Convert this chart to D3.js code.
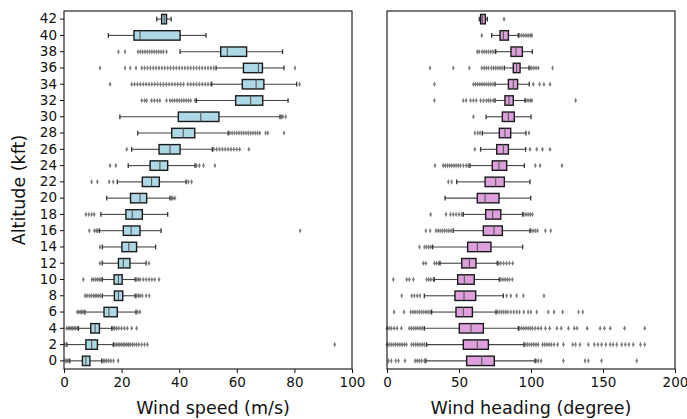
<!DOCTYPE html>
<html><head><meta charset="utf-8">
<script src="https://cdn.jsdelivr.net/npm/d3@7"></script>
<style>body{margin:0;background:#fff}svg{display:block}text{font-family:"DejaVu Sans",sans-serif}</style>
</head><body>
<svg id="c" width="687" height="419"></svg>
<script>
const altitudes = [0,2,4,6,8,10,12,14,16,18,20,22,24,26,28,30,32,34,36,38,40,42];

// Wind speed (m/s) box statistics per altitude
const speedLo  = [2, 1, 5, 7.3, 13.3, 13.3, 13.3, 13.3, 12.3, 12.8, 14.8, 18.5, 22.3, 23.5, 25.6, 19.4, 46, 51.3, 52.8, 40.3, 15.4, 32.2];
const speedQ1  = [6.4, 7.6, 9.3, 13.9, 17.5, 17.4, 18.9, 20.1, 20.6, 21.5, 23.1, 27.2, 29.9, 33, 37.4, 39.7, 59.6, 61.9, 62.3, 54.4, 24.3, 33.9];
const speedMed = [7.6, 9.6, 10.8, 15.6, 18.9, 18.9, 20.6, 22.5, 23.3, 23.7, 26.4, 30.4, 33.3, 36.8, 41.4, 47.5, 64.8, 66.7, 67.5, 56.7, 26.4, 34.8];
const speedQ3  = [9, 11.6, 12.3, 18.5, 20.4, 20.2, 22.9, 25.2, 26.4, 27.2, 28.7, 33.1, 36, 40.3, 45.4, 53.8, 69, 69.4, 68.9, 63.4, 40.3, 35.6];
const speedHi  = [13.1, 17.1, 16.6, 25, 24.7, 24.7, 28.5, 31.8, 33.7, 36, 36.8, 42.4, 45.5, 51.5, 57, 75, 77.8, 80.8, 76.4, 75.9, 49.3, 37.2];
const speedFliers = [
  [0.5, 1, 1.5, 13.6, 14.2, 14.8, 15.5, 16.3, 17.2, 18.8],
  [0.3, 17.6, 18.2, 18.8, 19.4, 20, 20.6, 21.2, 21.8, 22.4, 23, 23.7, 24.4, 25.2, 26, 27, 28, 29, 94],
  [0.9, 1.5, 2, 2.5, 3, 3.5, 4, 4.6, 17, 17.6, 18.2, 19, 20, 21, 22, 23.5, 25.2],
  [4.6, 5.2, 5.8, 6.2, 6.7, 25.6, 26.4],
  [7.3, 8, 8.8, 9.5, 10.2, 10.8, 11.4, 12, 12.6, 25.2, 25.8, 26.4, 27.2, 28.5, 29.6],
  [6.7, 9.7, 10.3, 11, 11.6, 12.2, 12.8, 25.2, 25.8, 26.4, 27.5, 28.5, 29.5, 30.5, 31.5, 33],
  [12.5, 29.5],
  [12.5],
  [8.8, 10.5, 11.2, 11.7, 82],
  [7.6, 8.6, 9.6, 10.5],
  [37.3, 37.8, 38.5],
  [9.6, 11.6, 15.7, 17.1, 43.2, 44.3],
  [16, 18, 46, 47, 48.4, 52.4],
  [21.8, 52, 53, 54, 55, 56, 57, 58, 59, 60, 61, 64.2],
  [57.6, 58.4, 59.2, 60, 60.8, 61.6, 62.4, 63.2, 64, 64.8, 65.6, 66.4, 67.2, 68, 70, 70.8, 76.4],
  [75.5, 76, 77],
  [27, 28, 28.7, 30.4, 31.4, 32.4, 33.3, 35.6, 36.8, 37.6, 38.4, 39.2, 40, 40.8, 41.6, 42.4, 43.2, 44, 45.5],
  [16, 23.5, 24.5, 25.5, 26.5, 27.5, 28.5, 29.5, 30.5, 31.5, 32.5, 33.5, 34.5, 35.5, 36.5, 37.5, 38.5, 39.5, 40.5, 41.5, 43, 44, 45, 46, 47, 48, 49, 50, 51, 81.8],
  [12.5, 21.2, 23, 25, 27, 28, 29, 30, 31, 32, 33, 34, 35, 36, 37, 38, 39, 40, 41, 42, 43, 44, 45, 46, 47, 48, 49, 50, 51, 52, 80.2],
  [18.9, 21.2, 25.7, 26.5, 27.3, 28.1, 28.9, 29.7, 30.5, 31.3, 32.1, 32.9, 33.7, 34.5, 35.6],
  [],
  []
];

// Wind heading (degree) box statistics per altitude
const headLo  = [27, 27.5, 25.9, 31, 25.9, 32.9, 36.8, 31.7, 46, 53, 40.3, 48.4, 57.6, 65, 66.2, 68.8, 75, 75, 81.5, 75.5, 72.7, 64.1];
const headQ1  = [55.3, 53, 50.2, 47.9, 47.2, 49.1, 51.9, 56, 66.9, 68.5, 62.7, 68.1, 73.1, 76.2, 78, 80.1, 81.9, 84.3, 87.7, 86.1, 78.5, 65];
const headMed = [65.8, 62.7, 58.3, 53, 53.5, 53.7, 57.2, 62.7, 74.3, 73.4, 68.1, 75.5, 77.8, 80.8, 81.9, 84.3, 84.7, 87.7, 90, 89.6, 80.8, 66.2];
const headQ3  = [74.5, 70.4, 66.9, 59.3, 61.6, 60.6, 61.8, 72.2, 80.1, 79, 77.8, 81.5, 83.1, 84.3, 85.9, 88.4, 87.7, 90.7, 92.4, 94, 84.3, 68.3];
const headHi  = [102.8, 95.1, 91.2, 75.7, 80.8, 78, 76.6, 94.2, 99.3, 94.2, 99.8, 99.3, 95.4, 96.3, 96.5, 100, 95.8, 98.8, 98.6, 100.9, 91.2, 69.7];
const headFliers = [
  [1, 3, 6, 8, 12.5, 19.5, 21, 22.5, 24, 26, 103.5, 105, 107, 122.5, 137.5, 139.8, 149, 173.4],
  [0, 1.5, 3, 4.5, 6, 7.5, 9, 10.5, 12, 13.5, 17, 18.5, 20, 21.5, 23, 24.5, 26, 96, 97.5, 99, 100.5, 102, 103.5, 105, 108, 109.5, 111, 112.5, 114, 116, 118.5, 122.5, 129, 131, 134, 139.8, 144, 146.5, 149, 152, 155, 157, 159.5, 163, 165.5, 168, 171, 176, 179],
  [0, 1.5, 3, 5, 7, 10, 15.5, 17, 18.5, 20, 21.5, 23, 24.5, 92, 93.5, 95, 96.5, 98, 99.5, 101, 103, 105, 107, 110, 113, 118, 121, 126, 130, 132, 139, 148, 151, 155, 165, 179],
  [4.9, 11.8, 16.4, 18, 19.5, 21, 22.5, 24, 25.5, 27, 28.5, 30, 76.5, 78, 79.5, 81, 82.5, 84, 86, 88, 90, 92, 95, 98, 100, 104, 112, 116, 122, 133, 136],
  [10.2, 17.1, 19, 21, 22.9, 83.1, 86, 90, 94.7, 109],
  [4.4, 13.7, 15.5, 18.3, 27.5, 29, 30.5, 32.2, 79, 80.5, 82, 83.5, 85, 87],
  [25.2, 27, 33, 34.5, 36, 77.5, 79, 81, 83, 85, 87.3],
  [22.5, 26, 27.5, 29, 30.5],
  [27, 30, 34, 35.5, 37, 38.5, 40, 41.5, 43, 44.5, 100, 101.5, 103, 104.5, 110, 113.7],
  [30.3, 41, 44, 46, 48, 50, 51.9, 95, 96.5, 98, 99.5, 101],
  [],
  [42.6, 44.9],
  [33.3, 39, 40.5, 42, 43.5, 45, 46.5, 48, 49.5, 51, 53, 55, 56.5, 103, 106.3, 121.5],
  [61, 99.3, 104, 108, 113.2],
  [61, 63, 64.6, 98.6],
  [60],
  [32.9, 53, 55, 58, 60, 62, 65, 67, 69, 70.5, 72, 73.8, 96.5, 98, 99.5, 100.6, 131],
  [32.9, 60, 61.5, 63, 64.5, 66, 67.5, 69, 70.5, 72, 73.5, 101.6, 106, 109, 113.2],
  [29.9, 46, 57.2, 65.8, 67.5, 69, 70.5, 72.5, 74, 75.5, 77, 78.5, 80, 99.3, 100.5, 102, 103.5, 105.1, 115],
  [62.7, 64, 66, 67.5, 69, 70.5, 72, 73.5, 75],
  [65.8, 92, 93.5, 95, 96.5, 98, 99.5, 100.6],
  [81.3]
];

const speedTicks = [0, 20, 40, 60, 80, 100];
const headTicks = [0, 50, 100, 150, 200];

const svg = d3.select("#c");
const plotTop = 11, plotBottom = 369;
const y = d3.scaleBand().domain(altitudes.slice().reverse()).range([plotTop, plotBottom]).padding(0);

function panel(x0, x1, domain, ticks, lo, q1, med, q3, hi, fliers, fill, showY) {
  const x = d3.scaleLinear().domain(domain).range([x0, x1]);
  const g = svg.append("g");
  const bh = y.bandwidth() * 0.58;
  const ch = bh * 0.5;
  const data = altitudes.map((a, i) => ({a, lo: lo[i], q1: q1[i], med: med[i], q3: q3[i], hi: hi[i], f: fliers[i]}));
  const rows = g.selectAll("g.row").data(data).join("g").attr("class", "row")
    .attr("transform", d => `translate(0,${y(d.a) + y.bandwidth() / 2})`);
  rows.each(function(d) {
    d3.select(this).selectAll("path.fl").data(d.f).join("path").attr("class", "fl")
      .attr("d", d3.symbol(d3.symbolDiamond, 9)())
      .attr("transform", v => `translate(${x(v)},0) scale(0.8,1)`)
      .attr("fill", "#444").attr("fill-opacity", 0.7).attr("stroke", "none");
  });
  rows.append("line").attr("x1", d => x(d.lo)).attr("x2", d => x(d.q1)).attr("stroke", "#444").attr("stroke-width", 1.1);
  rows.append("line").attr("x1", d => x(d.q3)).attr("x2", d => x(d.hi)).attr("stroke", "#444").attr("stroke-width", 1.1);
  rows.append("line").attr("x1", d => x(d.lo)).attr("x2", d => x(d.lo)).attr("y1", -ch / 2).attr("y2", ch / 2).attr("stroke", "#333").attr("stroke-width", 1.3);
  rows.append("line").attr("x1", d => x(d.hi)).attr("x2", d => x(d.hi)).attr("y1", -ch / 2).attr("y2", ch / 2).attr("stroke", "#333").attr("stroke-width", 1.3);
  rows.append("rect").attr("x", d => x(d.q1)).attr("width", d => x(d.q3) - x(d.q1))
    .attr("y", -bh / 2).attr("height", bh).attr("fill", fill).attr("stroke", "#1a1a1a").attr("stroke-width", 1.4);
  rows.append("line").attr("x1", d => x(d.med)).attr("x2", d => x(d.med)).attr("y1", -bh / 2).attr("y2", bh / 2)
    .attr("stroke", "#555").attr("stroke-width", 1.1);
  g.append("rect").attr("x", x0).attr("y", plotTop).attr("width", x1 - x0).attr("height", plotBottom - plotTop)
    .attr("fill", "none").attr("stroke", "#111").attr("stroke-width", 1.1);
  const ax = g.append("g").attr("transform", `translate(0,${plotBottom})`)
    .call(d3.axisBottom(x).tickValues(ticks).tickFormat(d3.format("d")).tickSize(4).tickPadding(4));
  ax.select(".domain").remove();
  ax.selectAll("line").attr("stroke", "#111");
  ax.selectAll("text").attr("font-size", 13.5).attr("fill", "#111").attr("font-family", "DejaVu Sans");
  if (showY) {
    const ay = g.append("g").attr("transform", `translate(${x0},0)`)
      .call(d3.axisLeft(y).tickSize(4).tickPadding(3));
    ay.select(".domain").remove();
    ay.selectAll("line").attr("stroke", "#111");
    ay.selectAll("text").attr("font-size", 13.5).attr("fill", "#111").attr("font-family", "DejaVu Sans");
  }
  return x;
}

panel(64, 352, [0, 100], speedTicks, speedLo, speedQ1, speedMed, speedQ3, speedHi, speedFliers, "#add8e6", true);
panel(387, 675, [0, 200], headTicks, headLo, headQ1, headMed, headQ3, headHi, headFliers, "#dda0dd", false);

svg.append("text").attr("x", 213).attr("y", 414).attr("text-anchor", "middle").attr("font-size", 17.5).attr("fill", "#111").text("Wind speed (m/s)");
svg.append("text").attr("x", 531).attr("y", 414).attr("text-anchor", "middle").attr("font-size", 17.5).attr("fill", "#111").text("Wind heading (degree)");
svg.append("text").attr("transform", "translate(25,190) rotate(-90)").attr("text-anchor", "middle").attr("font-size", 17.5).attr("fill", "#111").text("Altitude (kft)");
</script>
</body></html>
